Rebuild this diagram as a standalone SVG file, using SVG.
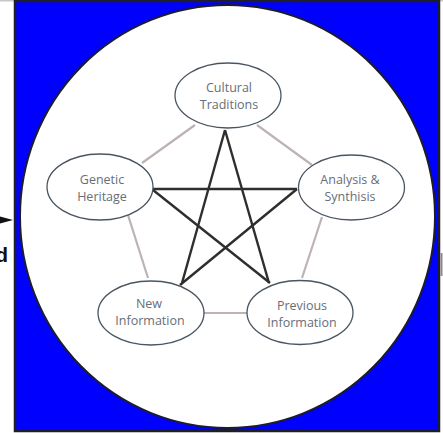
<svg xmlns="http://www.w3.org/2000/svg" width="443" height="433" viewBox="0 0 443 433">
<style>
.node ellipse{fill:#ffffff;stroke:#4a5560;stroke-width:1.3}
.node text{font-family:"Open Sans","Noto Sans",sans-serif;font-size:12.5px;fill:#666e78;text-anchor:middle}
.ring line{stroke:#bdb3b3;stroke-width:2.2}
.star line{stroke:#2e2e2e;stroke-width:2.4}
</style>
<rect x="0" y="0" width="443" height="433" fill="#ffffff"/>
<rect x="0" y="0" width="443" height="1.5" fill="#c8c8c8"/>
<rect x="15" y="1" width="424" height="430" fill="#0000ff" stroke="#1e1e28" stroke-width="2.5"/>
<ellipse cx="227.5" cy="216.5" rx="207.5" ry="211.5" fill="#ffffff" stroke="#1c1c2c" stroke-width="2"/>
<polygon points="0,216.5 13,220 0,223.5" fill="#111111"/>
<text x="8" y="262" font-family="Liberation Sans,Arial,sans-serif" font-weight="bold" font-size="21" fill="#111111" text-anchor="end">d</text>
<rect x="440.5" y="253" width="2" height="23" fill="#8a8a8a"/>
<g id="connectors">
<g class="ring">
<line x1="195" y1="125" x2="142" y2="163"/>
<line x1="257" y1="125" x2="312" y2="165"/>
<line x1="128" y1="215" x2="148" y2="278"/>
<line x1="322" y1="217" x2="302" y2="278"/>
<line x1="204" y1="313" x2="247" y2="313"/>
</g>
<g class="star">
<line x1="153" y1="189" x2="297" y2="189"/>
<line x1="153" y1="190" x2="270" y2="283"/>
<line x1="297" y1="189" x2="180" y2="285"/>
<line x1="225" y1="130" x2="182" y2="283"/>
<line x1="225" y1="130" x2="269" y2="283"/>
</g>
</g>
<g id="cultural-traditions" class="node">
<ellipse cx="228" cy="95.5" rx="53" ry="32.5"/>
<text x="229" y="91.5">Cultural</text>
<text x="229" y="108.5">Traditions</text>
</g>
<g id="genetic-heritage" class="node">
<ellipse cx="100" cy="187" rx="53" ry="33"/>
<text x="102" y="183.5">Genetic</text>
<text x="102" y="200.5">Heritage</text>
</g>
<g id="analysis-synthesis" class="node">
<ellipse cx="351.5" cy="187.5" rx="53" ry="32.5"/>
<text x="350" y="183.5">Analysis &amp;</text>
<text x="350" y="200.5">Synthisis</text>
</g>
<g id="new-information" class="node">
<ellipse cx="151" cy="313" rx="53" ry="32"/>
<text x="149" y="307.5">New</text>
<text x="150" y="324.5">Information</text>
</g>
<g id="previous-information" class="node">
<ellipse cx="300" cy="312.5" rx="53" ry="32"/>
<text x="302" y="309.5">Previous</text>
<text x="302" y="326.5">Information</text>
</g>
</svg>
